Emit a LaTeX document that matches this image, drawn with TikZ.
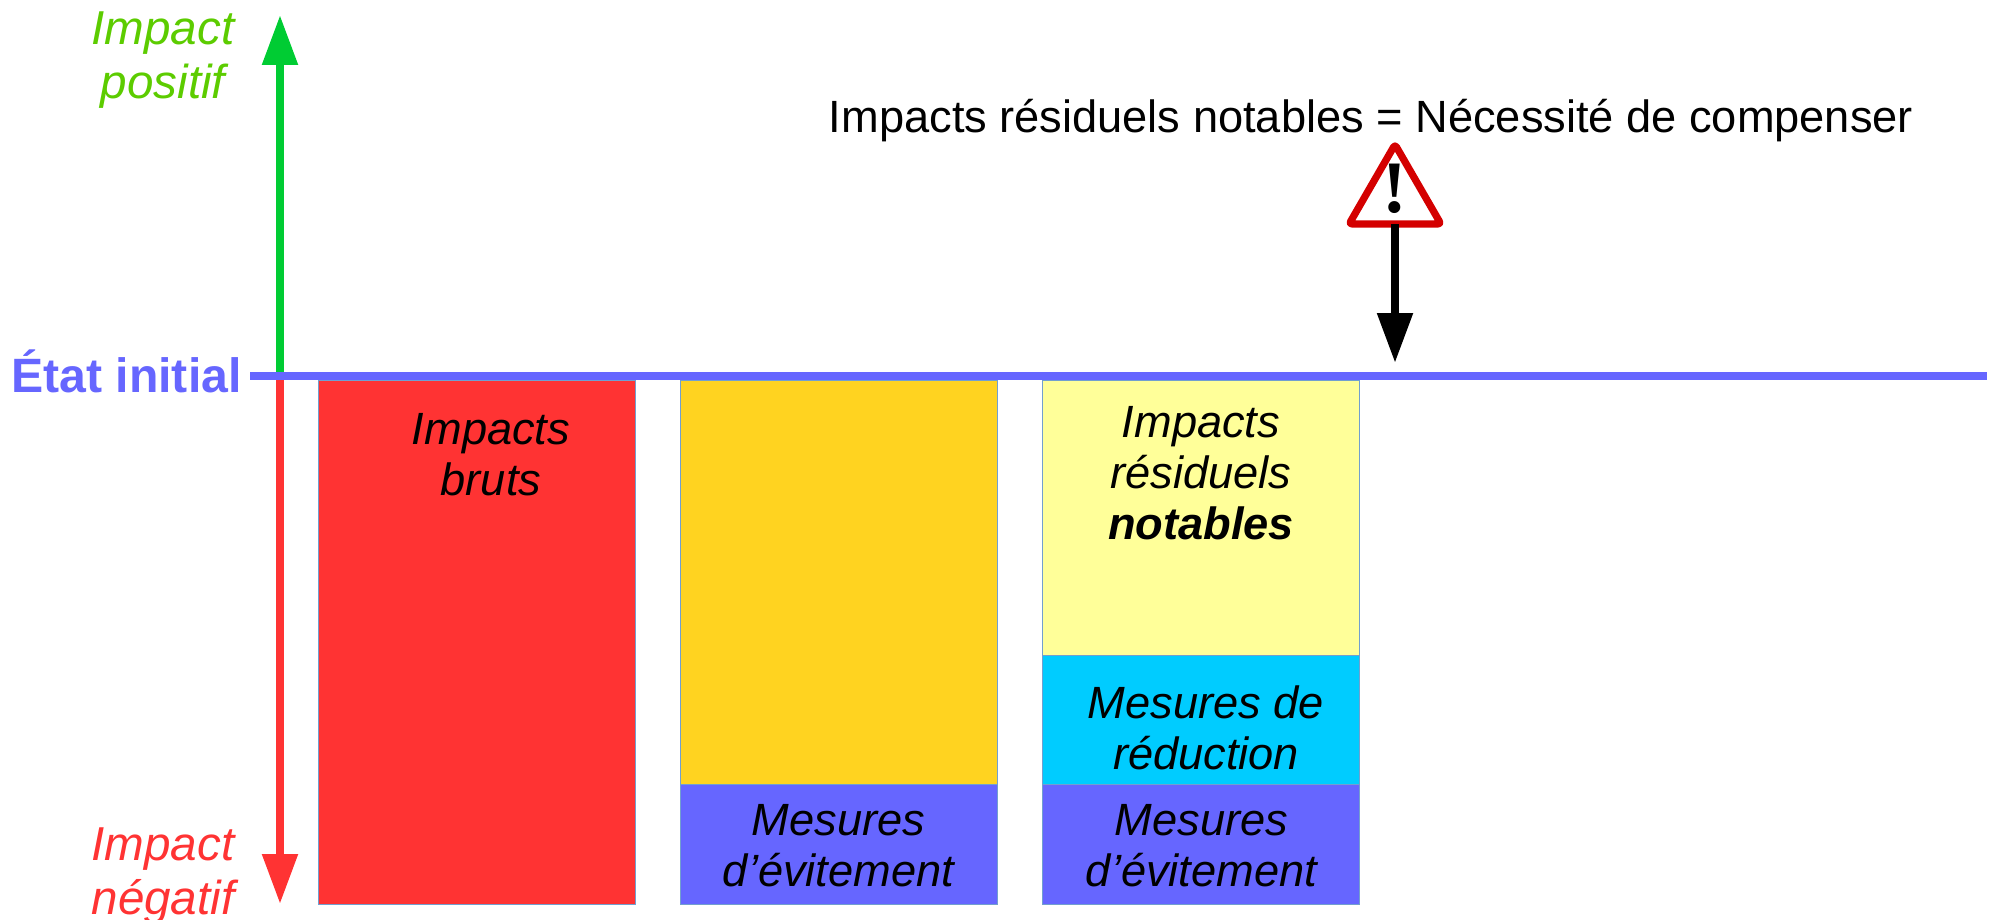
\documentclass[tikz,border=0pt]{standalone}
\usepackage{fontspec}
\setmainfont{Liberation Sans}
\newfontfamily\exclfont{Liberation Serif}
\usetikzlibrary{arrows.meta,shapes.geometric}
\definecolor{bleu}{HTML}{6666FF}
\definecolor{rouge}{HTML}{FF3333}
\definecolor{vert}{HTML}{00CC33}
\definecolor{vertclair}{HTML}{5CCC00}
\definecolor{orange}{HTML}{FFD320}
\definecolor{jaune}{HTML}{FFFF99}
\definecolor{cyan}{HTML}{00CCFF}
\definecolor{contour}{HTML}{729FCF}
\definecolor{alerte}{HTML}{D40000}
\tikzset{
	txt/.style={inner sep=0pt, outer sep=0pt, align=center, font=\fontsize{22.6}{25.6}\selectfont\itshape},
	axetxt/.style={txt, font=\fontsize{23.8}{27.4}\selectfont\itshape},
	box/.style={draw=contour, line width=0.5pt, inner sep=0pt, outer sep=0pt, minimum width=158.5pt},
	axe/.style={line width=4.2pt, -{Triangle[length=25pt,width=17pt]}}
}

\begin{document}
\begin{tikzpicture}[x=0.5pt,y=-0.5pt]
	\useasboundingbox (0,0) rectangle (1991,920);
	\coordinate (o) at (280,376);
	\coordinate (haut) at (280,15);
	\coordinate (bas) at (280,904);
	\coordinate (l1) at (250,376);
	\coordinate (l2) at (1987,376);
	\coordinate (t) at (1395,363);
	\draw [axe, vert] (o) to (haut);
	\draw [axe, rouge] (o) to (bas);
	\node (b1) [box, fill=rouge, minimum height=262pt] at (476.5,642) {};
	\node (b2) [box, fill=orange, minimum height=202pt] at (838.5,582) {};
	\node (b3) [box, fill=bleu, minimum height=60pt] at (838.5,844) {};
	\node (b4) [box, fill=jaune, minimum height=137.5pt] at (1201,517.5) {};
	\node (b5) [box, fill=cyan, minimum height=64.5pt] at (1201,719.5) {};
	\node (b6) [box, fill=bleu, minimum height=60pt] at (1201,844) {};
	\draw [line width=4.2pt, bleu] (l1) to (l2);
	\node (w) [regular polygon, regular polygon sides=3, draw=alerte, fill=white, line width=3.6pt, line join=round, rounded corners=1.5pt, minimum size=53pt, inner sep=0pt, outer sep=0pt] at (1395,197.5) {};
	\draw [axe, black] (w.side 2) to (t);
	\node (excl) [inner sep=0pt, font=\fontsize{37}{37}\exclfont\bfseries] at (1395,189) {!};
	\node (pos) [axetxt, text=vertclair] at (163,60) {Impact\\positif};
	\node (neg) [axetxt, text=rouge] at (163,876) {Impact\\négatif};
	\node (etat) [txt, text=bleu, font=\fontsize{24.1}{27}\selectfont\bfseries] at (126.5,371) {État initial};
	\node (titre) [txt, font=\fontsize{22.6}{25.6}\selectfont] at (1371,121) {Impacts résiduels notables = Nécessité de compenser};
	\node (t1) [txt] at (491,455) {Impacts\\bruts};
	\node (t2) [txt] at (838.5,846) {Mesures\\d’évitement};
	\node (t3) [txt] at (1201,473) {Impacts\\résiduels\\\textbf{notables}};
	\node (t4) [txt] at (1206,728) {Mesures de\\réduction};
	\node (t5) [txt] at (1201.5,846) {Mesures\\d’évitement};
\end{tikzpicture}
\end{document}
